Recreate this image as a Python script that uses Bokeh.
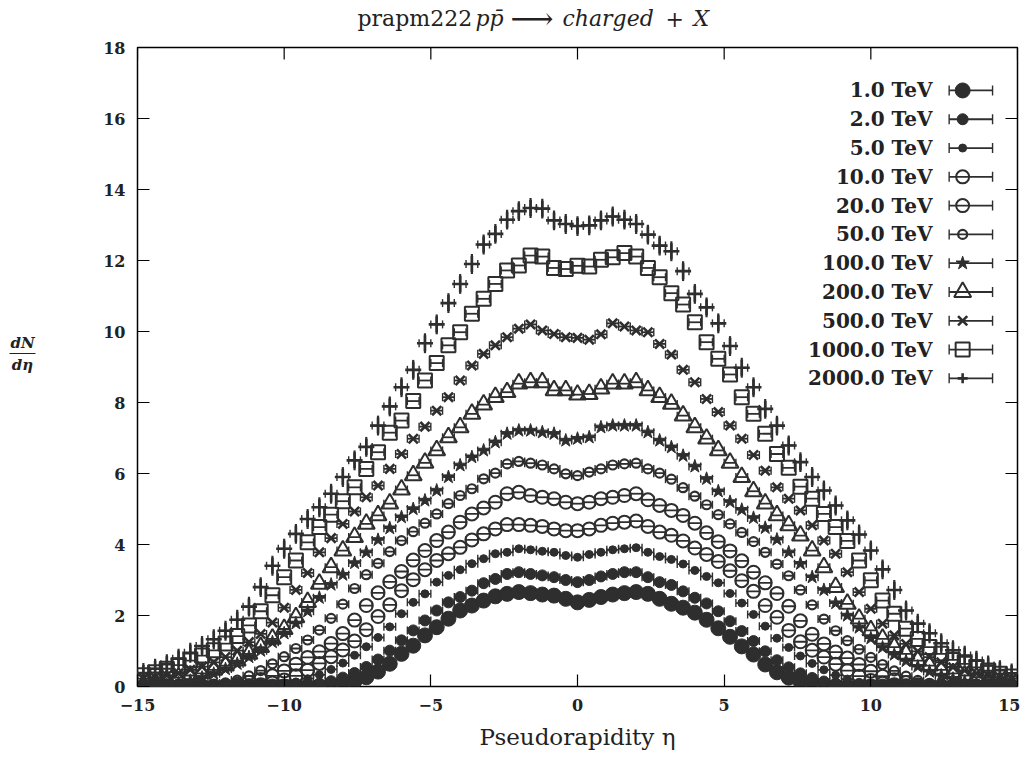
from bokeh.plotting import figure
from bokeh.layouts import column, row
from bokeh.models import (ColumnDataSource, Whisker, TeeHead, Label, FixedTicker, Range1d)
from bokeh.embed import file_html
from bokeh.resources import INLINE

# ---------------- data ----------------
# pseudorapidity bin centres: 75 bins of width 0.4 from -15 to 15
eta = [round(-14.8 + 0.4 * k, 1) for k in range(75)]
half_bin = 0.2

tick_x = [-15, -10, -5, 0, 5, 10, 15]
tick_x_labels = ["\u221215", "\u221210", "\u22125", "0", "5", "10", "15"]
tick_y = [0, 2, 4, 6, 8, 10, 12, 14, 16, 18]

labels = ["1.0 TeV", "2.0 TeV", "5.0 TeV", "10.0 TeV", "20.0 TeV", "50.0 TeV",
          "100.0 TeV", "200.0 TeV", "500.0 TeV", "1000.0 TeV", "2000.0 TeV"]

dndeta_1 = [0]*15 + [0.01, 0.04, 0.08, 0.15, 0.26, 0.42, 0.64, 0.92, 1.15, 1.44, 1.67, 1.91, 2.14,
            2.28, 2.42, 2.54, 2.61, 2.66, 2.63, 2.59, 2.56, 2.47, 2.37, 2.44, 2.52, 2.59, 2.63,
            2.66, 2.61, 2.47, 2.33, 2.22, 2.08, 1.88, 1.64, 1.40, 1.13, 0.90, 0.62, 0.40, 0.25,
            0.14, 0.08, 0.04, 0.01] + [0]*15
dndeta_2 = [0]*13 + [0.01, 0.04, 0.08, 0.15, 0.25, 0.38, 0.55, 0.76, 1.01, 1.30, 1.58, 1.86, 2.14,
            2.37, 2.52, 2.70, 2.91, 3.03, 3.17, 3.22, 3.17, 3.13, 3.08, 3.00, 2.94, 3.00, 3.10,
            3.17, 3.22, 3.22, 3.08, 2.94, 2.86, 2.68, 2.50, 2.34, 2.12, 1.84, 1.56, 1.28, 0.99,
            0.74, 0.54, 0.37, 0.24, 0.14, 0.08, 0.04, 0.01] + [0]*13
dndeta_5 = [0]*10 + [0.01, 0.03, 0.07, 0.13, 0.22, 0.33, 0.48, 0.66, 0.88, 1.12, 1.38, 1.68, 2.05,
            2.37, 2.61, 2.94, 3.13, 3.29, 3.46, 3.60, 3.74, 3.78, 3.88, 3.85, 3.81, 3.78, 3.69,
            3.64, 3.72, 3.78, 3.85, 3.88, 3.91, 3.78, 3.66, 3.58, 3.45, 3.27, 3.10, 2.92, 2.62,
            2.35, 2.03, 1.70, 1.36, 1.10, 0.86, 0.65, 0.47, 0.32, 0.21, 0.12, 0.06, 0.03,
            0.01] + [0]*10
dndeta_10 = [0]*9 + [0.02, 0.05, 0.10, 0.18, 0.30, 0.46, 0.65, 0.84, 1.03, 1.28, 1.60, 1.97, 2.30,
             2.70, 3.01, 3.29, 3.55, 3.74, 3.92, 4.13, 4.30, 4.44, 4.56, 4.56, 4.54, 4.51, 4.44,
             4.39, 4.39, 4.44, 4.54, 4.60, 4.63, 4.66, 4.51, 4.35, 4.26, 4.10, 3.90, 3.72, 3.52,
             3.26, 2.98, 2.68, 2.28, 1.95, 1.58, 1.26, 1.02, 0.83, 0.63, 0.45, 0.29, 0.17, 0.09,
             0.05, 0.02] + [0]*9
dndeta_20 = [0]*7 + [0.02, 0.06, 0.12, 0.20, 0.30, 0.44, 0.63, 0.82, 0.98, 1.21, 1.49, 1.87, 2.28,
             2.64, 2.95, 3.24, 3.56, 3.83, 4.11, 4.35, 4.63, 4.86, 5.03, 5.19, 5.43, 5.47, 5.38,
             5.33, 5.29, 5.19, 5.15, 5.19, 5.29, 5.33, 5.38, 5.43, 5.26, 5.10, 4.96, 4.82, 4.60,
             4.33, 4.08, 3.82, 3.54, 3.22, 2.92, 2.62, 2.26, 1.85, 1.47, 1.20, 0.97, 0.80, 0.62,
             0.43, 0.29, 0.19, 0.11, 0.05, 0.02] + [0]*7
dndeta_50 = [0]*5 + [0.02, 0.05, 0.10, 0.18, 0.30, 0.45, 0.64, 0.84, 1.07, 1.31, 1.59, 1.92, 2.32,
             2.76, 3.15, 3.47, 3.80, 4.11, 4.36, 4.60, 4.86, 5.15, 5.38, 5.57, 5.85, 6.01, 6.27,
             6.34, 6.29, 6.24, 6.13, 5.99, 5.94, 6.04, 6.13, 6.24, 6.27, 6.29, 6.13, 6.01, 5.84,
             5.60, 5.36, 5.12, 4.84, 4.58, 4.34, 4.08, 3.78, 3.45, 3.12, 2.72, 2.30, 1.90, 1.57,
             1.29, 1.05, 0.82, 0.62, 0.44, 0.29, 0.17, 0.09, 0.04, 0.02] + [0]*5
dndeta_100 = [0, 0.01, 0.04, 0.09, 0.16, 0.25, 0.36, 0.49, 0.64, 0.83, 1.01, 1.25, 1.50, 1.78, 2.12,
              2.50, 2.87, 3.15, 3.48, 3.78, 4.13, 4.46, 4.77, 5.00, 5.24, 5.52, 5.90, 6.23, 6.46,
              6.65, 6.88, 7.12, 7.21, 7.21, 7.16, 7.12, 6.93, 6.98, 7.02, 7.30, 7.35, 7.35, 7.35,
              7.16, 6.93, 6.74, 6.50, 6.20, 5.85, 5.50, 5.20, 4.98, 4.75, 4.47, 4.14, 3.78, 3.46,
              3.08, 2.72, 2.35, 2.00, 1.66, 1.36, 1.10, 0.90, 0.72, 0.56, 0.42, 0.31, 0.22, 0.14,
              0.08, 0.04, 0.01, 0]
dndeta_200 = [0.05, 0.12, 0.18, 0.25, 0.31, 0.37, 0.47, 0.59, 0.73, 0.92, 1.11, 1.34, 1.62, 1.95,
              2.38, 2.89, 3.36, 3.83, 4.21, 4.58, 4.82, 5.15, 5.55, 5.95, 6.30, 6.65, 7.02, 7.30,
              7.68, 7.94, 8.15, 8.29, 8.53, 8.57, 8.57, 8.34, 8.34, 8.22, 8.24, 8.39, 8.53, 8.53,
              8.57, 8.34, 8.15, 7.96, 7.63, 7.30, 6.98, 6.65, 6.30, 5.90, 5.50, 5.15, 4.82, 4.54,
              4.25, 3.83, 3.36, 2.80, 2.33, 1.91, 1.58, 1.34, 1.11, 0.92, 0.73, 0.59, 0.47, 0.37,
              0.31, 0.26, 0.18, 0.12, 0.05]
dndeta_500 = [0.22, 0.26, 0.31, 0.37, 0.47, 0.56, 0.68, 0.83, 1.01, 1.25, 1.48, 1.80, 2.22, 2.72,
              3.20, 3.78, 4.18, 4.58, 4.93, 5.33, 5.66, 6.13, 6.55, 6.98, 7.32, 7.77, 8.15, 8.62,
              9.04, 9.37, 9.61, 9.84, 10.08, 10.20, 10.03, 9.93, 9.84, 9.82, 9.77, 9.92, 10.23,
              10.14, 10.03, 9.98, 9.65, 9.35, 8.92, 8.57, 8.10, 7.73, 7.35, 6.98, 6.52, 6.08, 5.61,
              5.29, 4.96, 4.54, 4.11, 3.74, 3.22, 2.66, 2.19, 1.77, 1.44, 1.20, 0.99, 0.83, 0.68,
              0.54, 0.45, 0.37, 0.31, 0.26, 0.22]
dndeta_1000 = [0.32, 0.40, 0.50, 0.60, 0.73, 0.87, 1.02, 1.21, 1.42, 1.72, 2.12, 2.57, 3.08, 3.55,
               4.06, 4.49, 4.84, 5.22, 5.61, 6.13, 6.60, 7.15, 7.49, 8.04, 8.62, 9.11, 9.61, 9.98,
               10.50, 10.92, 11.34, 11.72, 11.86, 12.14, 12.11, 11.79, 11.76, 11.85, 11.83, 12.02,
               12.09, 12.21, 12.11, 11.79, 11.53, 11.08, 10.76, 10.26, 9.70, 9.23, 8.79, 8.15,
               7.68, 7.12, 6.55, 6.16, 5.63, 5.29, 4.86, 4.49, 4.10, 3.55, 2.99, 2.42, 2.05, 1.63,
               1.34, 1.11, 0.92, 0.75, 0.64, 0.54, 0.45, 0.36, 0.28]
dndeta_2000 = [0.38, 0.50, 0.63, 0.78, 0.95, 1.14, 1.33, 1.57, 1.88, 2.25, 2.80, 3.40, 3.88, 4.30,
               4.72, 5.05, 5.43, 5.90, 6.37, 6.75, 7.35, 7.89, 8.43, 8.92, 9.67, 10.20, 10.80,
               11.34, 11.90, 12.45, 12.75, 13.15, 13.39, 13.48, 13.46, 13.13, 13.03, 12.97, 12.99,
               13.13, 13.24, 13.15, 13.03, 12.73, 12.42, 12.26, 11.70, 11.06, 10.68, 10.23, 9.59,
               8.98, 8.43, 7.82, 7.35, 6.79, 6.32, 5.90, 5.52, 5.10, 4.68, 4.28, 3.83, 3.30, 2.72,
               2.14, 1.77, 1.50, 1.22, 1.02, 0.87, 0.73, 0.59, 0.46, 0.37]
err_2000 = 0.28   # vertical error visible on the 2000 TeV points

series = [dndeta_1, dndeta_2, dndeta_5, dndeta_10, dndeta_20, dndeta_50,
          dndeta_100, dndeta_200, dndeta_500, dndeta_1000, dndeta_2000]
for s in series:
    assert len(s) == len(eta), len(s)

# ---------------- styles / layout ----------------
INK = "#2e2e2e"
TXT = "#222222"
SERIF = "DejaVu Serif"
# (marker, size, filled, line width)
styles = [("circle", 15, True, 1.0), ("circle", 11, True, 1.0), ("circle", 8, True, 1.0),
          ("circle", 13, False, 2.0), ("circle", 13, False, 2.0), ("circle", 9, False, 2.2),
          ("star", 14, True, 1.0), ("triangle", 17, False, 2.0), ("x", 13, False, 2.6),
          ("square", 14, False, 2.0), ("cross", 16, False, 2.6)]
BAR_W = 1.8

TOTAL_W, TOTAL_H = 1020, 756
TITLE_H, YLAB_W = 37, 45
FRAME_L, FRAME_R, FRAME_T, FRAME_B = 137, 1017, 47, 686
X0, X1, Y0, Y1 = -15, 15, 0, 18
px_per_x = (FRAME_R - FRAME_L) / (X1 - X0)
px_per_y = (FRAME_B - FRAME_T) / (Y1 - Y0)
TICK_PX = 12

main_w = TOTAL_W - YLAB_W
main_h = TOTAL_H - TITLE_H
p = figure(width=main_w, height=main_h, x_range=Range1d(X0, X1), y_range=Range1d(Y0, Y1),
           output_backend="svg", toolbar_location=None, title=None,
           min_border_left=FRAME_L - YLAB_W, min_border_right=TOTAL_W - FRAME_R,
           min_border_top=FRAME_T - TITLE_H, min_border_bottom=TOTAL_H - FRAME_B)
p.grid.visible = False
p.background_fill_color = "white"
p.border_fill_color = "white"
p.outline_line_color = "black"
p.outline_line_width = 1.5

xa = p.below[0]
ya = p.left[0]
for ax, ticks in ((xa, tick_x), (ya, tick_y)):
    ax.ticker = FixedTicker(ticks=ticks)
    ax.major_tick_in = TICK_PX
    ax.major_tick_out = 0
    ax.minor_tick_line_color = None
    ax.major_tick_line_width = 1.2
    ax.axis_line_color = None
    ax.major_label_text_font = SERIF
    ax.major_label_text_font_style = "bold"
    ax.major_label_text_font_size = "16px"
    ax.major_label_text_color = TXT
    ax.major_label_standoff = 12
xa.major_label_overrides = {t: l for t, l in zip(tick_x, tick_x_labels)}
xa.axis_label = "Pseudorapidity \u03b7"
xa.axis_label_text_font = SERIF
xa.axis_label_text_font_style = "normal"
xa.axis_label_text_font_size = "23px"
xa.axis_label_text_color = TXT
xa.axis_label_standoff = 10

# mirrored inward ticks on the top and right frame edges
dy_tick = TICK_PX / px_per_y
dx_tick = TICK_PX / px_per_x
p.segment(x0=tick_x, y0=[Y1] * len(tick_x), x1=tick_x, y1=[Y1 - dy_tick] * len(tick_x),
          line_color="black", line_width=1.2)
p.segment(x0=[X1] * len(tick_y), y0=tick_y, x1=[X1 - dx_tick] * len(tick_y), y1=tick_y,
          line_color="black", line_width=1.2)

# ---------------- data series ----------------
def draw(src, style, hbar_head=8):
    marker, size, filled, lw = style
    w = Whisker(source=src, base="y", lower="xl", upper="xu", dimension="width",
                line_color=INK, line_width=BAR_W,
                upper_head=TeeHead(size=hbar_head, line_color=INK, line_width=1.4),
                lower_head=TeeHead(size=hbar_head, line_color=INK, line_width=1.4))
    p.add_layout(w)
    if marker == "cross":
        v = Whisker(source=src, base="x", lower="yl", upper="yu", dimension="height",
                    line_color=INK, line_width=2.2, upper_head=None, lower_head=None)
        p.add_layout(v)
    p.scatter("x", "y", source=src, marker=marker, size=size, line_color=INK, line_width=lw,
              fill_color=INK if filled else None)

for vals, st in zip(series, styles):
    src = ColumnDataSource(dict(x=eta, y=vals,
                                xl=[e - half_bin for e in eta], xu=[e + half_bin for e in eta],
                                yl=[v - err_2000 for v in vals], yu=[v + err_2000 for v in vals]))
    draw(src, st)

# ---------------- legend (glyph to the right of the label) ----------------
leg_top, leg_step = 16.79, 0.811
leg_text_x, leg_mark_x, leg_bar = 12.1, 13.13, (12.67, 14.15)
for i, (lab, st) in enumerate(zip(labels, styles)):
    yy = leg_top - leg_step * i
    p.add_layout(Label(x=leg_text_x, y=yy, text=lab, text_font=SERIF, text_font_style="bold",
                       text_font_size="20px", text_align="right", text_baseline="middle",
                       text_color=TXT))
    src = ColumnDataSource(dict(x=[leg_mark_x], y=[yy], xl=[leg_bar[0]], xu=[leg_bar[1]],
                                yl=[yy], yu=[yy]))
    marker, size, filled, lw = st
    draw(src, (marker, size if marker != "cross" else 10, filled, lw), hbar_head=10)

# ---------------- title strip (pixel coordinates) ----------------
t = figure(width=TOTAL_W, height=TITLE_H, x_range=Range1d(0, TOTAL_W), y_range=Range1d(0, TITLE_H),
           output_backend="svg", toolbar_location=None, title=None,
           x_axis_type=None, y_axis_type=None,
           min_border=0, outline_line_color=None)
t.grid.visible = False
title_mid = TITLE_H - 18
pieces = [("prapm222", "normal", 357, "22px"), ("pp\u0304", "italic", 475, "22px"),
          ("\u27f6", "normal", 510, "30px"), ("charged", "italic", 562, "22px"),
          ("+", "normal", 665, "22px"), ("X", "italic", 693, "22px")]
for txt, sty, xx, fs in pieces:
    t.add_layout(Label(x=xx, y=title_mid, text=txt, text_font=SERIF, text_font_style=sty,
                       text_font_size=fs, text_align="left", text_baseline="middle",
                       text_color=TXT))

# ---------------- y-label strip: dN / d eta as a fraction ----------------
# this strip's frame is aligned with the main frame, so it shares the main y range
ylab_h = TOTAL_H - TITLE_H
yl = figure(width=YLAB_W, height=ylab_h, x_range=Range1d(0, YLAB_W), y_range=Range1d(Y0, Y1),
            output_backend="svg", toolbar_location=None, title=None,
            x_axis_type=None, y_axis_type=None,
            min_border_left=0, min_border_right=0,
            min_border_top=FRAME_T - TITLE_H, min_border_bottom=TOTAL_H - FRAME_B,
            outline_line_color=None)
yl.grid.visible = False
frac_mid = (FRAME_B - 353) / px_per_y
frac_gap = 11 / px_per_y
yl.add_layout(Label(x=22, y=frac_mid + frac_gap, text="dN", text_font=SERIF,
                    text_font_style="bold italic", text_font_size="15px", text_align="center",
                    text_baseline="middle", text_color=TXT))
yl.add_layout(Label(x=22, y=frac_mid - frac_gap, text="d\u03b7", text_font=SERIF,
                    text_font_style="bold italic", text_font_size="15px", text_align="center",
                    text_baseline="middle", text_color=TXT))
yl.segment(x0=[9], y0=[frac_mid], x1=[35], y1=[frac_mid], line_color=TXT, line_width=1.2)

layout = column(t, row(yl, p, spacing=0), spacing=0)
open("out.html", "w").write(file_html(layout, INLINE))
